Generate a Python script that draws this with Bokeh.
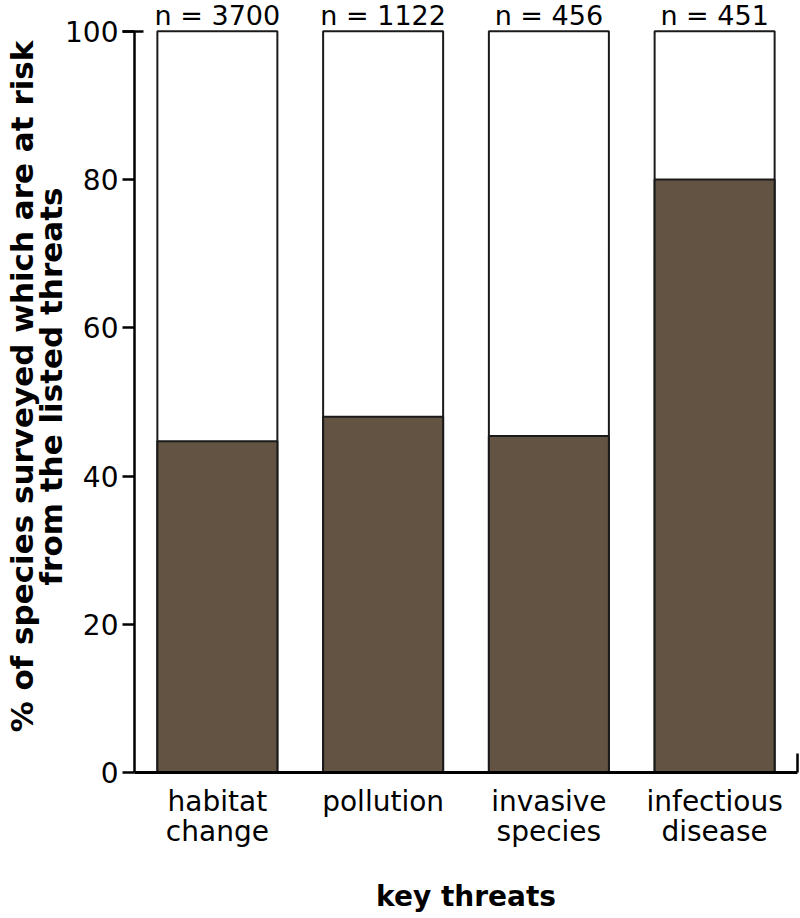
from bokeh.plotting import figure
from bokeh.models import Range1d, FixedTicker, ColumnDataSource
from bokeh.embed import file_html
from bokeh.resources import INLINE
from bokeh.core.properties import value

# ---- data ----
categories = ["habitat\nchange", "pollution", "invasive\nspecies", "infectious\ndisease"]
at_risk_pct = [44.7, 48.0, 45.4, 80.0]
surveyed_n = [3700, 1122, 456, 451]
full_scale = [100, 100, 100, 100]
y_ticks = [0, 20, 40, 60, 80, 100]

FONT = "DejaVu Sans"
BROWN = "#625343"
EDGE = "#1a1a1a"

pos = [i + 0.5 for i in range(len(categories))]
src = ColumnDataSource(dict(
    x=pos,
    risk=at_risk_pct,
    full=full_scale,
    n=[f"n = {v}" for v in surveyed_n],
))

p = figure(width=800, height=918, output_backend="svg", toolbar_location=None,
           x_range=Range1d(0, len(categories)), y_range=Range1d(0, 104.15),
           min_border_left=134, min_border_right=3, min_border_top=0,
           min_border_bottom=146)

p.vbar(x="x", top="full", bottom=0, width=0.724, source=src,
       fill_color="white", line_color=EDGE, line_width=2)
p.vbar(x="x", top="risk", bottom=0, width=0.724, source=src,
       fill_color=BROWN, line_color=EDGE, line_width=2)

p.text(x="x", y="full", text="n", source=src, text_align="center",
       text_baseline="bottom", text_font=value(FONT),
       text_font_size="27px", text_color="black")

p.xgrid.visible = False
p.ygrid.visible = False
p.outline_line_color = None
p.background_fill_color = "white"
p.border_fill_color = "white"

xa = p.xaxis[0]
xa.ticker = FixedTicker(ticks=pos, minor_ticks=[len(categories) - 0.002])
xa.major_label_overrides = {x: c for x, c in zip(pos, categories)}
xa.major_tick_out = 0
xa.major_tick_in = 0
xa.minor_tick_in = 19
xa.minor_tick_out = 0
xa.minor_tick_line_width = 2.5
xa.minor_tick_line_color = "black"
xa.axis_line_width = 3
xa.axis_line_color = "black"
xa.major_label_standoff = 12
xa.major_label_text_font = FONT
xa.major_label_text_font_size = "28px"
xa.major_label_text_color = "black"
xa.major_label_text_line_height = 0.92
xa.axis_label = "key threats"
xa.axis_label_text_font = FONT
xa.axis_label_text_font_size = "28px"
xa.axis_label_text_font_style = "bold"
xa.axis_label_text_color = "black"
xa.axis_label_standoff = 29

ya = p.yaxis[0]
ya.ticker = FixedTicker(ticks=y_ticks, minor_ticks=[100])
ya.bounds = (0, 100)
ya.major_tick_out = 12
ya.major_tick_in = 0
ya.major_tick_line_width = 2.5
ya.major_tick_line_color = "black"
ya.minor_tick_out = 12
ya.minor_tick_in = 9
ya.minor_tick_line_width = 2.5
ya.minor_tick_line_color = "black"
ya.axis_line_width = 2.5
ya.axis_line_color = "black"
ya.major_label_standoff = 4
ya.major_label_text_font = FONT
ya.major_label_text_font_size = "28px"
ya.major_label_text_color = "black"
ya.axis_label = "% of species surveyed which are at risk\nfrom the listed threats"
ya.axis_label_text_font = FONT
ya.axis_label_text_font_size = "31px"
ya.axis_label_text_font_style = "bold"
ya.axis_label_text_color = "black"
ya.axis_label_text_line_height = 0.8
ya.axis_label_standoff = -7

open("out.html", "w").write(file_html(p, INLINE))
